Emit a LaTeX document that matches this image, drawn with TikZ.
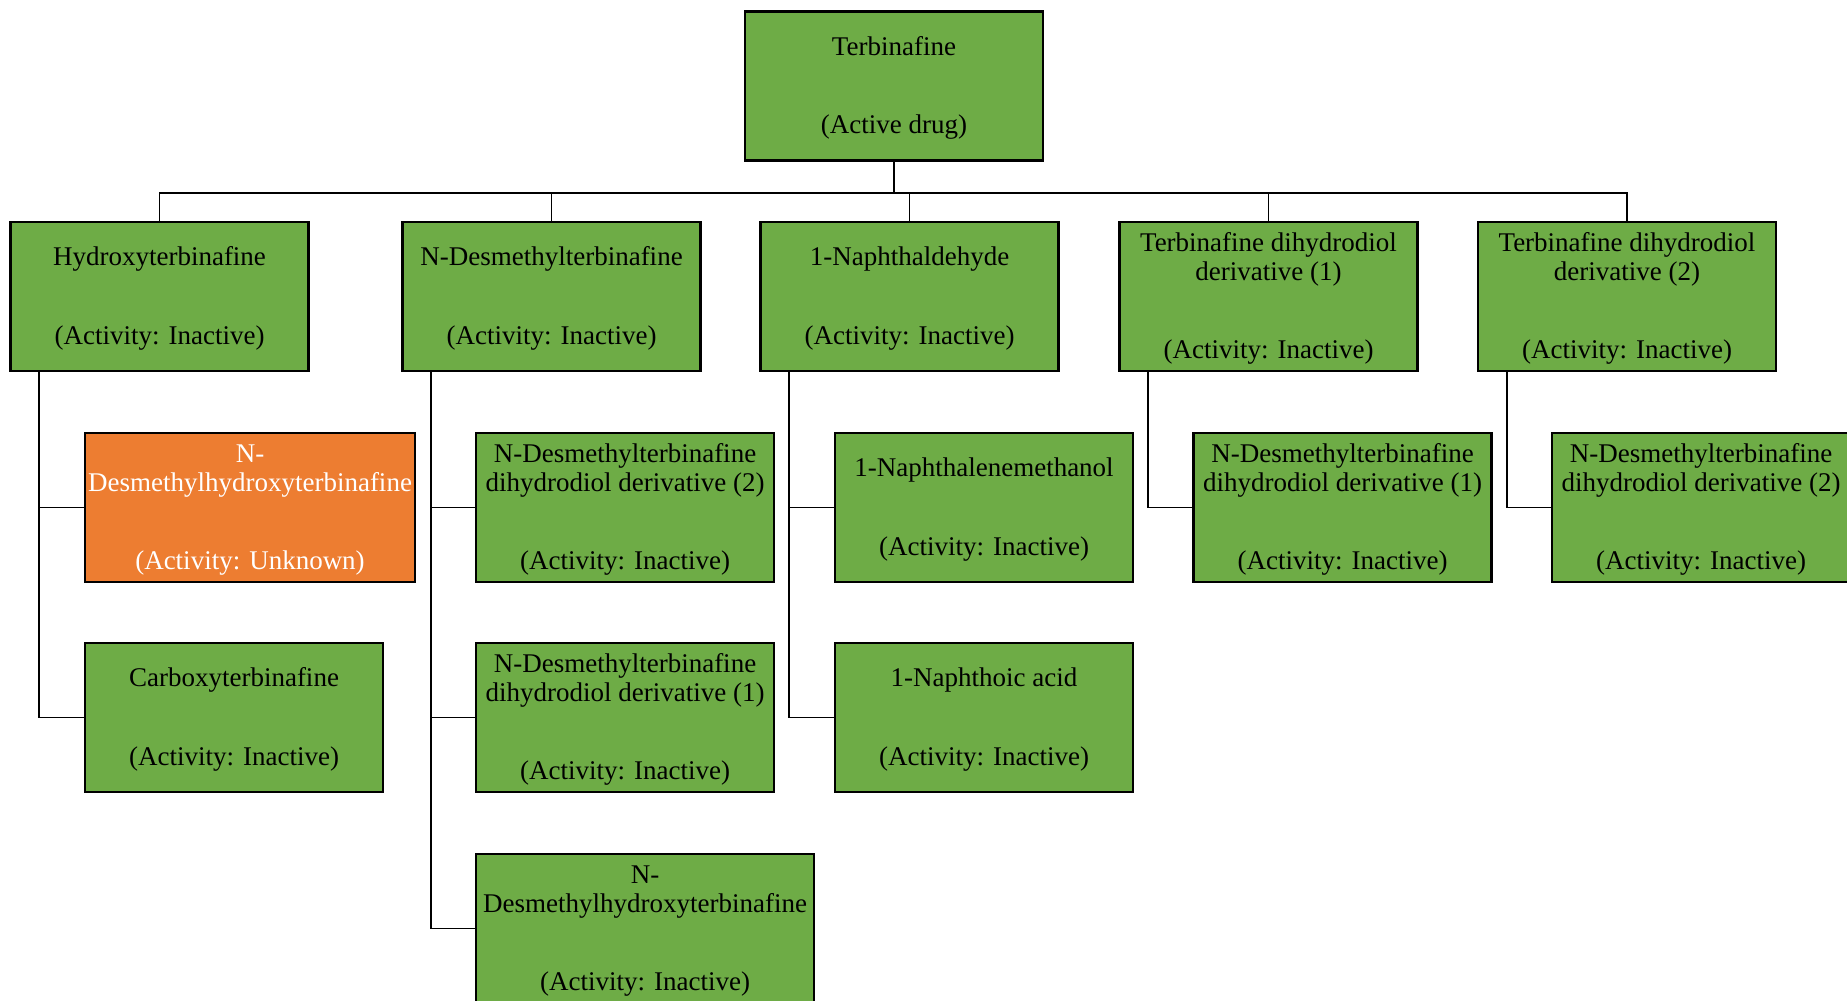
\documentclass[tikz,border=0pt]{standalone}
\usepackage{fontspec}
\setmainfont{Liberation Serif}
\definecolor{boxgreen}{HTML}{6EAC46}
\definecolor{boxorange}{HTML}{ED7D31}
\tikzset{
  box/.style={draw=black, line width=1.3pt, fill=boxgreen, align=center, inner sep=0pt,
    font=\fontsize{13.5pt}{14.2pt}\selectfont, text=black, minimum height=74.5pt, minimum width=149pt},
  wide/.style={minimum width=#1},
  unknown/.style={fill=boxorange, text=white},
  link/.style={draw=black, line width=0.8pt},
}
\newcommand{\gapline}{\\[25pt]}
\newcommand{\topstrut}{\rule{0pt}{11.6pt}}
\begin{document}
\begin{tikzpicture}[x=0.5pt,y=-0.5pt]
\useasboundingbox (0,0) rectangle (1847,1001);
\fill[white] (0,0) rectangle (1847,1001);
% root
\node[box] (root) at (894,86) {\topstrut Terbinafine\gapline(Active drug)};
% level 1
\node[box] (hyd) at (159.5,296.5) {\topstrut Hydroxyterbinafine\gapline(Activity: Inactive)};
\node[box] (ndm) at (551.5,296.5) {\topstrut N-Desmethylterbinafine\gapline(Activity: Inactive)};
\node[box] (nal) at (909.5,296.5) {\topstrut 1-Naphthaldehyde\gapline(Activity: Inactive)};
\node[box] (td1) at (1268.5,296.5) {\topstrut Terbinafine dihydrodiol\\derivative (1)\gapline(Activity: Inactive)};
\node[box] (td2) at (1627,296.5) {\topstrut Terbinafine dihydrodiol\\derivative (2)\gapline(Activity: Inactive)};
% level 2
\node[box,unknown,wide=165pt] (hydA) at (250,507.5) {\topstrut N-\\Desmethylhydroxyterbinafine\gapline(Activity: Unknown)};
\node[box] (hydB) at (234,717.5) {\topstrut Carboxyterbinafine\gapline(Activity: Inactive)};
\node[box] (ndmA) at (625,507.5) {\topstrut N-Desmethylterbinafine\\dihydrodiol derivative (2)\gapline(Activity: Inactive)};
\node[box] (ndmB) at (625,717.5) {\topstrut N-Desmethylterbinafine\\dihydrodiol derivative (1)\gapline(Activity: Inactive)};
\node[box,wide=169pt] (ndmC) at (645,928.5) {\topstrut N-\\Desmethylhydroxyterbinafine\gapline(Activity: Inactive)};
\node[box] (nalA) at (984,507.5) {\topstrut 1-Naphthalenemethanol\gapline(Activity: Inactive)};
\node[box] (nalB) at (984,717.5) {\topstrut 1-Naphthoic acid\gapline(Activity: Inactive)};
\node[box] (td1A) at (1342.5,507.5) {\topstrut N-Desmethylterbinafine\\dihydrodiol derivative (1)\gapline(Activity: Inactive)};
\node[box] (td2A) at (1701,507.5) {\topstrut N-Desmethylterbinafine\\dihydrodiol derivative (2)\gapline(Activity: Inactive)};
% connectors root -> level 1
\foreach \c in {hyd,ndm,nal,td1,td2}
  \draw[link] (root.south) -- ++(0,31) -| (\c.north);
% connectors level 1 -> level 2
\foreach \p/\c in {hyd/hydA,hyd/hydB,ndm/ndmA,ndm/ndmB,ndm/ndmC,nal/nalA,nal/nalB,td1/td1A,td2/td2A}
  \draw[link] ([xshift=15pt]\p.south west) |- (\c.west);
\end{tikzpicture}
\end{document}
